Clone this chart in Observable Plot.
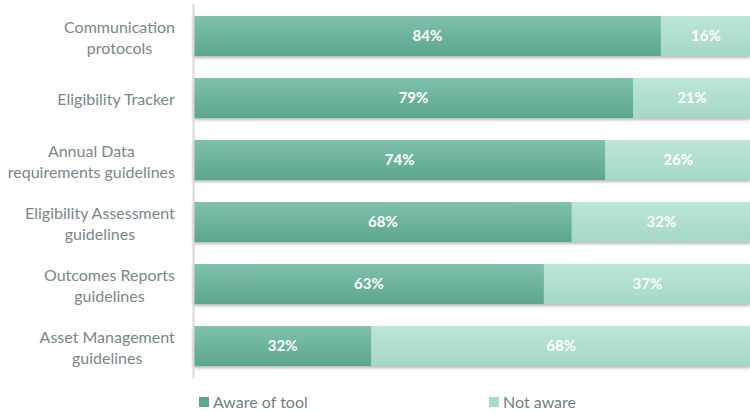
<!DOCTYPE html>
<html>
<head>
<meta charset="utf-8">
<script src="https://cdn.jsdelivr.net/npm/d3@7"></script>
<script src="https://cdn.jsdelivr.net/npm/@observablehq/plot@0.6"></script>
<style>
  body { margin: 0; background: #fff; font-family: Lato, "Open Sans", sans-serif; }
  #legend { position: relative; height: 30px; font-size: 16px; color: #6f7f80; }
  .item { position: absolute; top: 10px; display: flex; align-items: center; }
  .sw { width: 10px; height: 10px; margin-right: 4px; }
</style>
</head>
<body>
<div id="chart"></div>
<div id="legend"></div>
<script>
const categories = [
  "Communication\nprotocols",
  "Eligibility Tracker",
  "Annual Data\nrequirements guidelines",
  "Eligibility Assessment\nguidelines",
  "Outcomes Reports\nguidelines",
  "Asset Management\nguidelines"
];
const series = ["Aware of tool", "Not aware"];
const aware = [84, 79, 74, 68, 63, 32];
const notAware = [16, 21, 26, 32, 37, 68];
const colors = ["#6db39c", "#b0dfcf"];

const data = [];
categories.forEach((c, i) => {
  data.push({cat: c, series: series[0], value: aware[i]});
  data.push({cat: c, series: series[1], value: notAware[i]});
});

const chart = Plot.plot({
  width: 750,
  height: 382,
  marginLeft: 193,
  marginRight: 0,
  marginTop: 4,
  marginBottom: 4,
  style: {fontFamily: "Lato, 'Open Sans', sans-serif"},
  x: {domain: [0, 100], axis: null},
  y: {domain: categories, paddingInner: 0.36, paddingOuter: 0.176, axis: null},
  color: {domain: series, range: colors},
  marks: [
    Plot.barX(data, Plot.stackX({x: "value", y: "cat", fill: "series"})),
    Plot.ruleX([0], {stroke: "#d9d9d9", strokeWidth: 2}),
    Plot.text(data, Plot.stackX({x: "value", y: "cat", z: "series", text: d => d.value + "%", fill: "white", fontWeight: "bold", fontSize: 15})),
    Plot.text(categories, {x: 0, y: d => d, text: d => d, textAnchor: "middle", dx: -100, fill: "#768889", fontSize: 16, lineHeight: 1.3})
  ]
});
document.getElementById("chart").appendChild(chart);

const svg = d3.select(chart);
const svgLeft = chart.getBoundingClientRect().left;

// right-align each centered label block at x = 175
svg.selectAll("g[aria-label=text]").filter((d, i) => i === 1).selectAll("text").each(function() {
  const r = this.getBoundingClientRect();
  const shift = 175 - (r.right - svgLeft);
  const t = d3.select(this);
  const tr = t.attr("transform") || "";
  t.attr("transform", `translate(${shift},0) ${tr}`);
});

// gradient + shadow styling on the bars
const defs = svg.insert("defs", ":first-child");
const grads = [["#7fc1ad", "#5ca68d"], ["#bce6d8", "#a5d8c6"]];
grads.forEach((g, i) => {
  const lg = defs.append("linearGradient").attr("id", "g" + i).attr("x1", 0).attr("y1", 0).attr("x2", 0).attr("y2", 1);
  lg.append("stop").attr("offset", "0%").attr("stop-color", g[0]);
  lg.append("stop").attr("offset", "100%").attr("stop-color", g[1]);
});
svg.selectAll("g[aria-label=bar] rect").each(function() {
  const f = d3.select(this).attr("fill");
  const idx = f && f.toLowerCase() === colors[0] ? 0 : 1;
  d3.select(this).attr("fill", `url(#g${idx})`);
});
svg.select("g[aria-label=bar]").style("filter", "drop-shadow(0px 2px 1.5px rgba(0,0,0,0.28))");

// legend
const legend = document.getElementById("legend");
[[199, 0], [489, 1]].forEach(([x, i]) => {
  const it = document.createElement("div");
  it.className = "item";
  it.style.left = x + "px";
  it.innerHTML = `<span class="sw" style="background:${i === 0 ? '#5fa68e' : '#a8dcc9'}"></span><span>${series[i]}</span>`;
  legend.appendChild(it);
});
</script>
</body>
</html>
